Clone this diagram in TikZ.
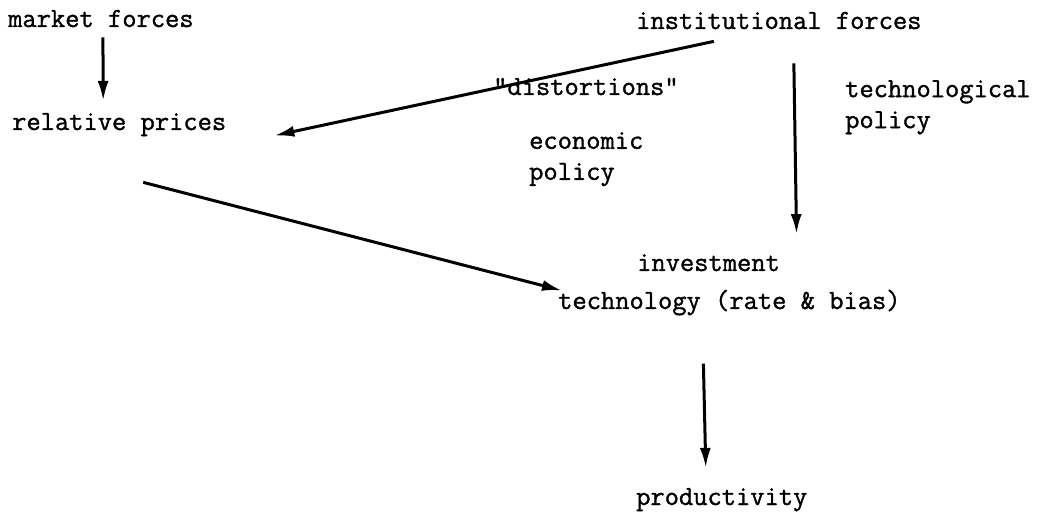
\documentclass[tikz,border=0pt]{standalone}
\usepackage{fontspec}
\setmonofont[FakeBold=1.2]{Latin Modern Mono}
\usepackage{tikz}
\usetikzlibrary{arrows.meta,positioning}
\tikzset{
  lbl/.style={font=\ttfamily\fontsize{27.7}{31}\selectfont,inner sep=0pt,anchor=base west,align=left},
  ar/.style={-{Latex[length=20pt,width=11pt]},line width=3pt,black}
}
\begin{document}
\begin{tikzpicture}[x=1pt,y=-1pt]
\useasboundingbox (0,0) rectangle (1057,518);
% labels, typed in by baseline
\node[lbl] (mf) at (8,27) {market forces};
\node[lbl] (inst) at (636,29) {institutional forces};
\node[lbl] (dist) at (493,95) {"distortions"};
\node[lbl,anchor=north west] (tpol) at (845,80) {technological\\policy};
\node[lbl] (rp) at (12,130) {relative prices};
\node[lbl,anchor=north west] (epol) at (529,132) {economic\\policy};
\node[lbl] (inv) at (637,271) {investment};
\node[lbl] (tech) at (558,309) {technology (rate \& bias)};
\node[lbl] (prod) at (636,505) {productivity};
% arrows
\draw[ar] ([xshift=2pt,yshift=-10pt]mf.south) -- ([xshift=-16pt,yshift=12pt]rp.north);
\draw[ar] ([xshift=-65pt,yshift=-12pt]inst.south) -- ([xshift=48pt,yshift=-11pt]rp.east);
\draw[ar] ([xshift=24pt,yshift=-46pt]rp.south) -- ([xshift=4pt,yshift=12pt]tech.west);
\draw[ar] ([xshift=15pt,yshift=-34pt]inst.south) -- ([xshift=88pt,yshift=20pt]inv.north);
\draw[ar] ([xshift=-26pt,yshift=-48pt]tech.south) -- ([xshift=-16pt,yshift=20pt]prod.north);
\end{tikzpicture}
\end{document}
